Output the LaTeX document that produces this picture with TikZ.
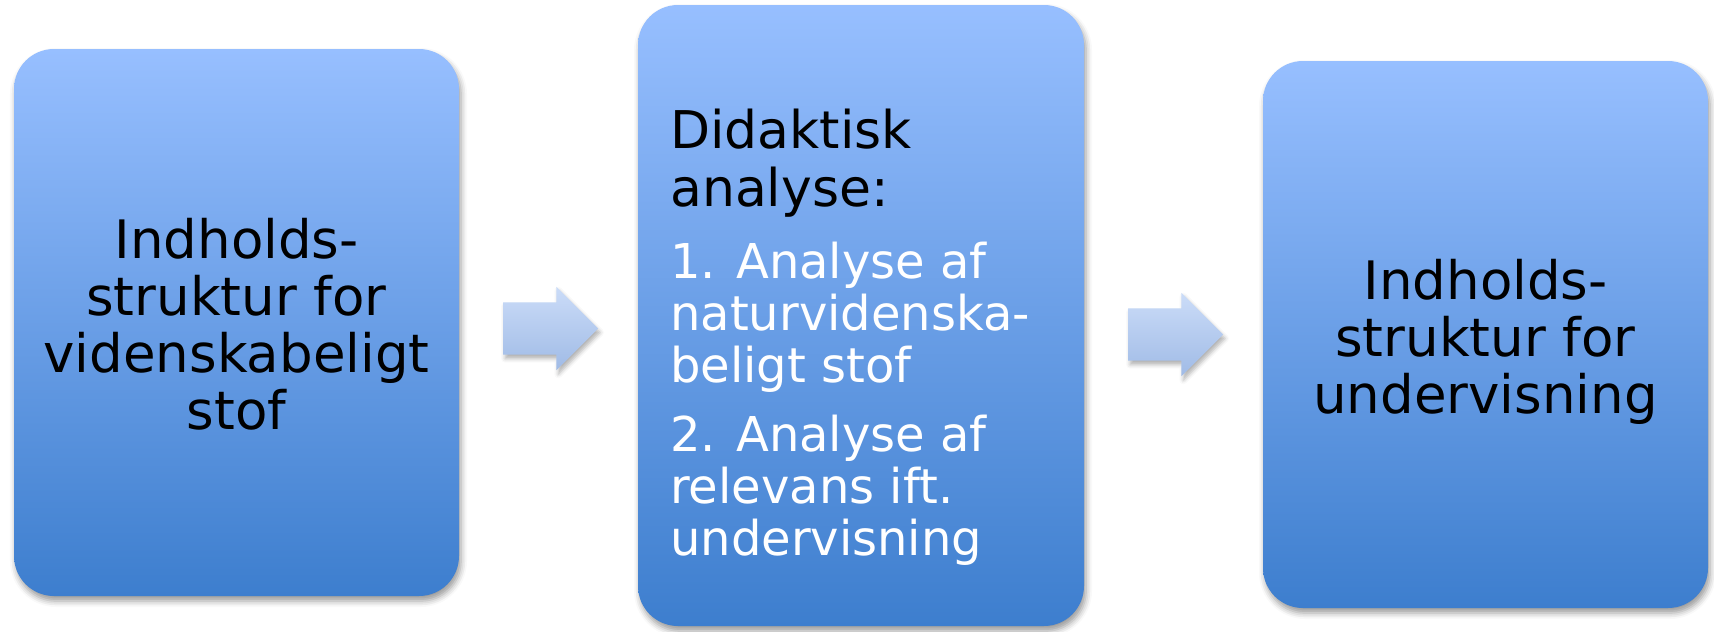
\documentclass[tikz,border=0pt]{standalone}
\usepackage{fontspec}
\setmainfont{DejaVu Sans}
\usetikzlibrary{shapes.arrows,shadows.blur}
\definecolor{boxtop}{RGB}{151,191,255}
\definecolor{boxbot}{RGB}{61,126,206}
\definecolor{arrtop}{RGB}{203,220,248}
\definecolor{arrbot}{RGB}{160,187,230}
\begin{document}
\begin{tikzpicture}[x=1pt,y=-1pt,
  box/.style={rectangle, rounded corners=40pt, inner sep=0pt,
    top color=boxtop, bottom color=boxbot,
    blur shadow={shadow xshift=2pt,shadow yshift=-5pt,shadow blur radius=6pt,shadow opacity=40}},
  boxtext/.style={align=center, inner sep=0pt, font=\fontsize{53}{57}\selectfont},
  blockarrow/.style={single arrow, single arrow head extend=15.5pt,
    minimum height=95pt, inner xsep=0pt, inner ysep=26pt,
    top color=arrtop, bottom color=arrbot,
    blur shadow={shadow xshift=2pt,shadow yshift=-4pt,shadow blur radius=4pt,shadow opacity=30}}]
\useasboundingbox (0,0) rectangle (1714,632);
\node[box, minimum width=445pt, minimum height=547pt] (b1) at (236.5,322.5) {};
\node[box, minimum width=446pt, minimum height=621pt] (b2) at (861,315.5) {};
\node[box, minimum width=445pt, minimum height=547pt] (b3) at (1485.5,334.5) {};
\node[boxtext] (b1t) at ([yshift=-2pt]b1.center)
  {Indholds-\\struktur for\\videnskabeligt\\stof};
\node[boxtext] (b3t) at ([yshift=-7pt]b3.center)
  {Indholds-\\struktur for\\undervisning};
\node[anchor=north west, text width=420pt, align=left, inner sep=0pt] (b2t) at (670,109)
  {\parindent=0pt\parskip=0pt
   \color{black}\fontsize{52}{58}\selectfont\spaceskip=0pt\xspaceskip=0pt Didaktisk\\analyse:\par
   \vspace{20pt}
   \color{white}\fontsize{48}{52}\selectfont\spaceskip=0pt\xspaceskip=0pt 1. Analyse af\\naturvidenska-\\beligt stof\par
   \vspace{17pt}
   2. Analyse af\\relevans ift.\\undervisning\par};
\node[blockarrow] (a1) at (537.5,328.5) {};
\node[blockarrow] (a2) at (1162.5,334.5) {};
\end{tikzpicture}
\end{document}
